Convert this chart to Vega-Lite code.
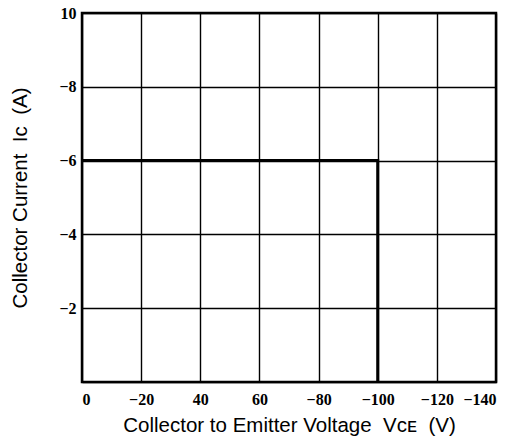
{
  "$schema": "https://vega.github.io/schema/vega-lite/v6.json",
  "width": 414,
  "height": 369,
  "autosize": {"type": "none"},
  "padding": {"left": 82, "top": 13, "right": 12, "bottom": 60},
  "background": "white",
  "config": {
    "view": {"stroke": "black", "strokeWidth": 2.5},
    "axis": {
      "domain": false,
      "ticks": false,
      "grid": true,
      "gridColor": "black",
      "gridWidth": 1.4,
      "gridOpacity": 1,
      "labelFont": "Liberation Serif",
      "labelFontWeight": "bold",
      "labelFontSize": 16,
      "labelColor": "black",
      "titleFont": "Liberation Sans",
      "titleFontWeight": "normal",
      "titleFontSize": 20.5,
      "titleColor": "black"
    }
  },
  "data": {
    "values": [
      {"vce": 0, "ic": -6},
      {"vce": -100, "ic": -6},
      {"vce": -100, "ic": 0}
    ]
  },
  "mark": {"type": "line", "color": "black", "strokeWidth": 3},
  "encoding": {
    "x": {
      "field": "vce",
      "type": "quantitative",
      "scale": {"domain": [0, -140], "nice": false, "zero": false},
      "axis": {
        "values": [0, -20, -40, -60, -80, -100, -120, -140],
        "labelExpr": "datum.value == 0 ? '0' : (datum.value == -40 ? '40' : (datum.value == -60 ? '60' : '−' + abs(datum.value)))",
        "labelPadding": 9,
        "title": "Collector to Emitter Voltage\u00a0\u00a0Vᴄᴇ\u00a0\u00a0(V)",
        "titlePadding": 8
      }
    },
    "y": {
      "field": "ic",
      "type": "quantitative",
      "scale": {"domain": [0, -10], "nice": false, "zero": false},
      "axis": {
        "values": [0, -2, -4, -6, -8, -10],
        "labelExpr": "datum.value == 0 ? '' : (datum.value == -10 ? '10' : '−' + abs(datum.value))",
        "labelPadding": 6,
        "title": "Collector Current\u00a0\u00a0Iᴄ\u00a0\u00a0(A)",
        "titlePadding": 28
      }
    }
  }
}
